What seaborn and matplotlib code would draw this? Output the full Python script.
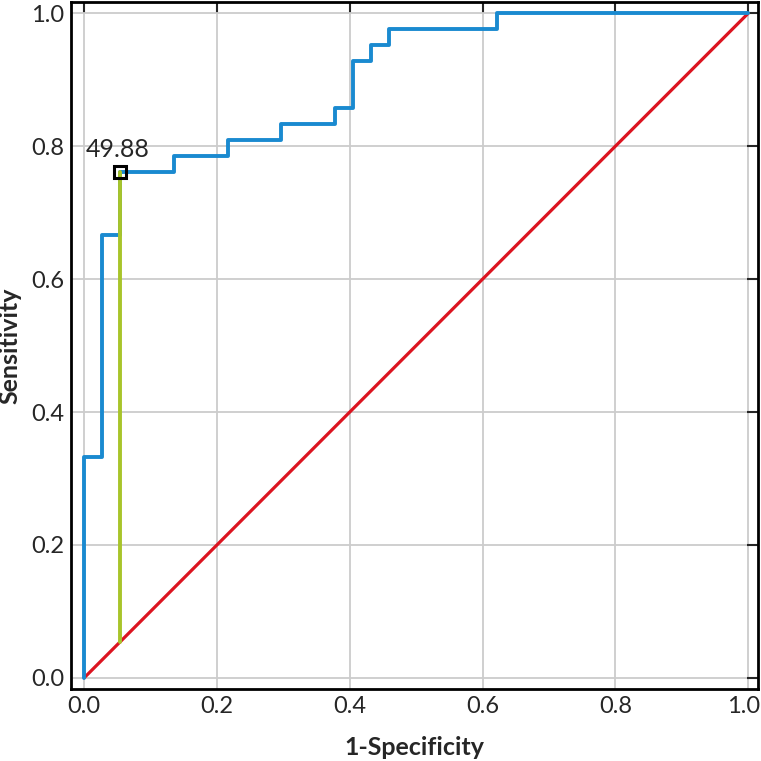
import matplotlib
matplotlib.use("Agg")
import matplotlib.pyplot as plt
import matplotlib.transforms as mtransforms
import seaborn as sns
import pandas as pd

# ROC curve (step points, steps-post)
fpr = [0.0, 0.0, 0.027, 0.054, 0.135, 0.216, 0.297, 0.378, 0.405, 0.432, 0.459, 0.622, 1.0]
tpr = [0.0, 0.333, 0.667, 0.762, 0.786, 0.810, 0.833, 0.857, 0.929, 0.952, 0.976, 1.0, 1.0]

# reference diagonal
diag_x = [0.0, 1.0]
diag_y = [0.0, 1.0]

# optimal cut-off point
cut_x = 0.054
cut_y = 0.762
cut_label = "49.88"

ticks = [0.0, 0.2, 0.4, 0.6, 0.8, 1.0]
tick_labels = ["0.0", "0.2", "0.4", "0.6", "0.8", "1.0"]

sns.set_style("white")
plt.rcParams["font.family"] = ["Lato", "DejaVu Sans"]

fig = plt.figure(figsize=(7.61, 7.61), dpi=100)
ax = fig.add_axes([0.0933, 0.0946, 0.9027, 0.9025])

roc = pd.DataFrame({"fpr": fpr, "tpr": tpr})
sns.lineplot(data=roc, x="fpr", y="tpr", sort=False, estimator=None,
             drawstyle="steps-post", color="#1a8ad0", lw=2.8, ax=ax, zorder=3)
sns.lineplot(x=diag_x, y=diag_y, sort=False, estimator=None,
             color="#dc1420", lw=2.3, ax=ax, zorder=2)
# vertical line from diagonal to the cut-off point
sns.lineplot(x=[cut_x, cut_x], y=[cut_x, cut_y], sort=False, estimator=None,
             color="#a8c42a", lw=2.8, ax=ax, zorder=4)
ax.plot([cut_x], [cut_y], marker="s", markersize=9, markerfacecolor="none",
        markeredgecolor="black", markeredgewidth=2.2, zorder=5)
ax.text(cut_x - 0.003, cut_y + 0.016, cut_label, ha="center", va="bottom", fontsize=18)

ax.set_xlim(-0.02, 1.015)
ax.set_ylim(-0.017, 1.017)
ax.set_xticks(ticks)
ax.set_xticklabels(tick_labels)
ax.set_yticks(ticks)
ax.set_yticklabels(tick_labels)
ax.grid(True, color="#cccccc", linewidth=1.3)
ax.set_axisbelow(True)
ax.tick_params(direction="in", length=8, width=1.5, labelsize=17,
               top=True, right=True, pad=5)
for s in ax.spines.values():
    s.set_color("black")
    s.set_linewidth(2)

# nudge the last x label so it stays inside the figure
last = ax.get_xticklabels()[-1]
last.set_transform(last.get_transform() +
                   mtransforms.ScaledTranslation(-4 / 100, 0, fig.dpi_scale_trans))

ax.set_xlabel("1-Specificity", fontsize=18, fontweight="bold")
ax.set_ylabel("Sensitivity", fontsize=18, fontweight="bold")
ax.xaxis.set_label_coords(0.5, -0.068)
ax.yaxis.set_label_coords(-0.072, 0.5)

fig.savefig("out.png", dpi=100)
